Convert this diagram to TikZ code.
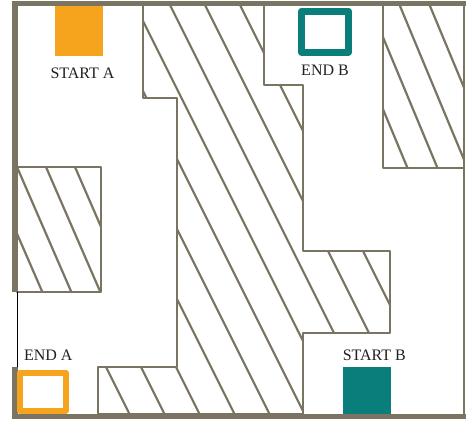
\documentclass[tikz,border=0pt]{standalone}
\usepackage{fontspec}
\setmainfont{Liberation Serif}
\usepackage{xcolor}
\usepackage{tikz}
\usetikzlibrary{calc}
\definecolor{wallgrey}{RGB}{122,117,98}
\definecolor{startorange}{RGB}{246,163,30}
\definecolor{mazeteal}{RGB}{10,126,122}
\definecolor{labelgrey}{RGB}{35,31,32}
\tikzset{
  wall/.style={draw=wallgrey, line width=2.4pt},
  border/.style={draw=wallgrey, line width=5.5pt, line cap=butt},
  hatchline/.style={draw=wallgrey, line width=2.2pt},
  fullbox/.style={rectangle, minimum width=48pt, minimum height=50pt, inner sep=0pt},
  ringbox/.style={rectangle, fill=white, inner sep=0pt},
  lbl/.style={font=\fontsize{16}{18}\selectfont, text=labelgrey, inner sep=0pt},
  every picture/.style={line cap=round, line join=round}
}

\begin{document}
\begin{tikzpicture}[x=1pt, y=-1pt]
  \useasboundingbox (0,0) rectangle (466,424);

  % big wall
  \begin{scope}
    \clip (143,5) -- (143,98) -- (177,98) -- (177,367) -- (98,367) -- (98,414)
      -- (303,414) -- (303,333) -- (390,333) -- (390,251) -- (303,251)
      -- (303,85) -- (264,85) -- (264,5) -- cycle;
    \foreach \t in {-75,-40,...,240}
      \draw[hatchline] (\t-20,-35) -- (\t+230,465);
  \end{scope}
  \draw[wall] (143,5) -- (143,98) -- (177,98) -- (177,367) -- (98,367) -- (98,414)
    -- (303,414) -- (303,333) -- (390,333) -- (390,251) -- (303,251)
    -- (303,85) -- (264,85) -- (264,5);

  % top right wall
  \begin{scope}
    \clip (383,5) rectangle (464,168);
    \foreach \t in {340,370,...,430}
      \draw[hatchline] (\t-10,-18) -- (\t+80,198);
  \end{scope}
  \draw[wall] (383,5) -- (383,168) -- (464,168);

  % left wall
  \begin{scope}
    \clip (17,167) rectangle (101,292);
    \foreach \t in {-12,17,46,75}
      \draw[hatchline] (\t-10,144) -- (\t+70,328);
  \end{scope}
  \draw[wall] (17,167) -- (101,167) -- (101,292) -- (17,292);

  % frame
  \draw[wallgrey, line width=1.6pt] (464,3) -- (464,416);
  \draw[border] (12,3.5) -- (466,3.5);
  \draw[border] (15,1) -- (15,292);
  \draw[border] (15,367) -- (15,419);
  \draw[black, line width=0.9pt] (17.5,292) -- (17.5,367);
  \draw[border] (12,416.5) -- (466,416.5);

  % starts and ends
  \node[fullbox, fill=startorange] (startA) at (79,31) {};
  \node[fullbox, fill=mazeteal, minimum height=47pt] (startB) at (367,390.5) {};
  \node[ringbox, draw=mazeteal, line width=7pt, minimum width=47pt, minimum height=41pt] (endB) at (325,31.5) {};
  \node[ringbox, draw=startorange, line width=6pt, minimum width=45.5pt, minimum height=38pt] (endA) at (42.75,391.5) {};

  \node[lbl] (startAlbl) at (82.5,73.5) {START A};
  \node[lbl] (endBlbl) at (325,70) {END B};
  \node[lbl] (endAlbl) at (48.3,355) {END A};
  \node[lbl] (startBlbl) at (374.3,355.5) {START B};
\end{tikzpicture}
\end{document}
